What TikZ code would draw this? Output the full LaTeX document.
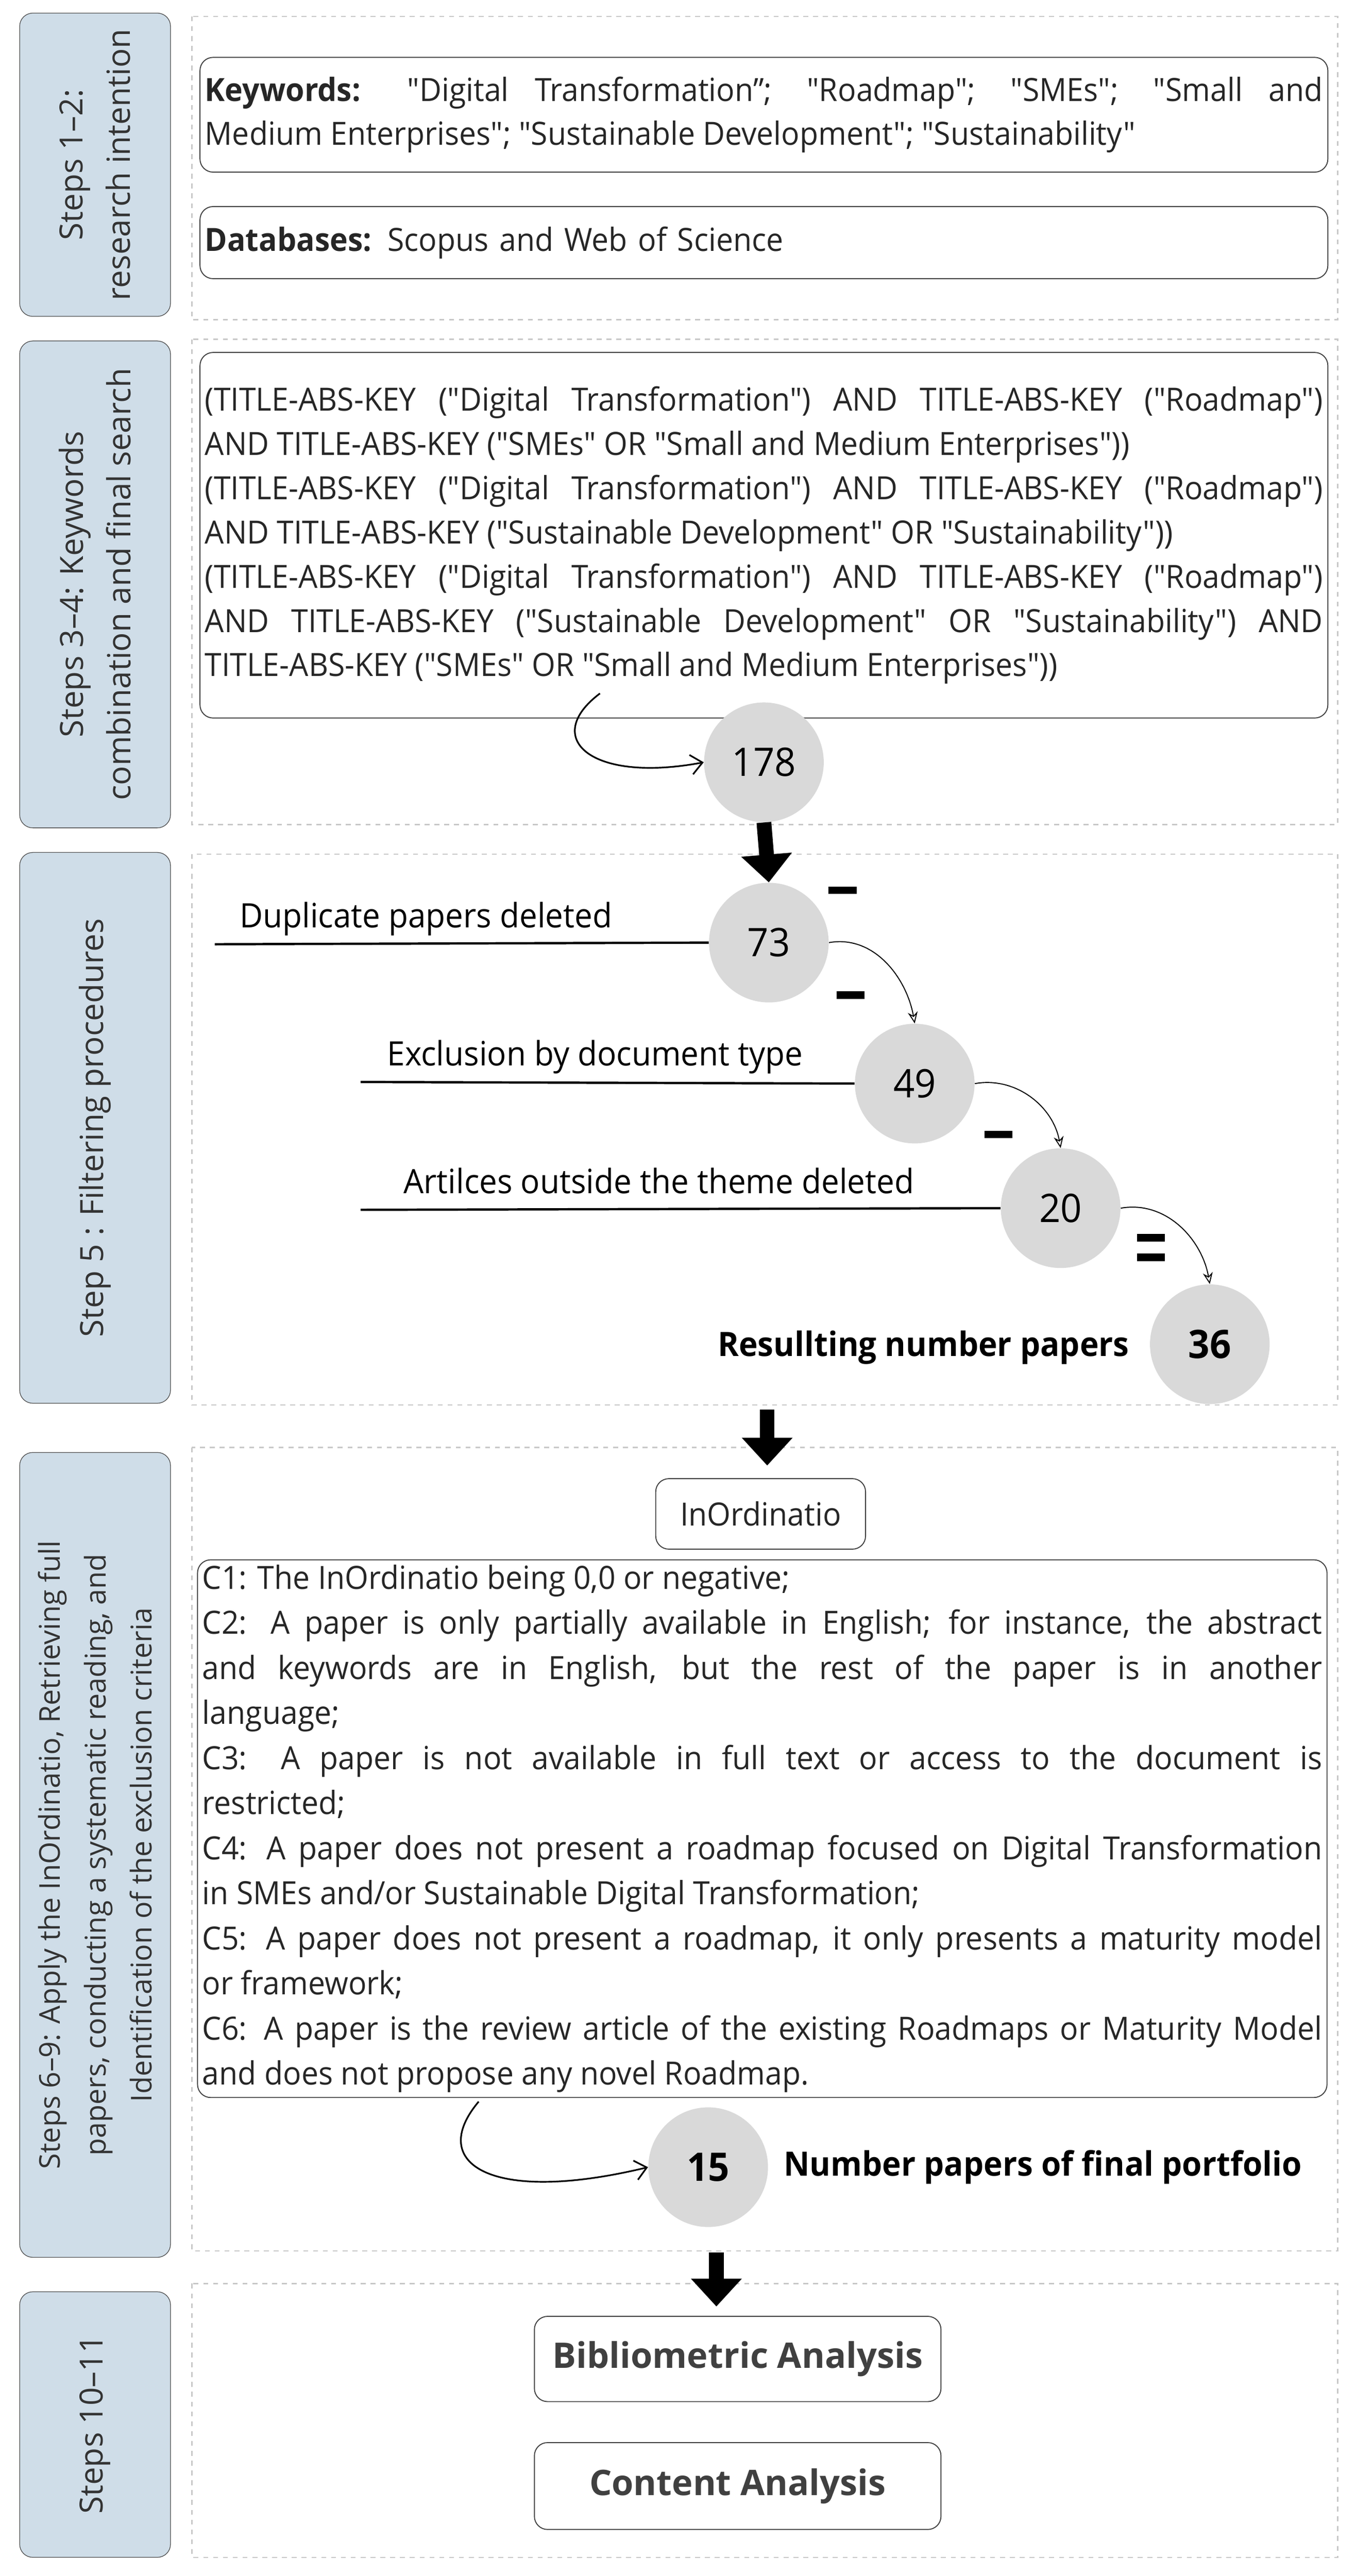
\documentclass[tikz,border=0pt]{standalone}
\usepackage{fontspec}
\setmainfont{Open Sans}
\newfontfamily\cond{Open Sans}[FakeStretch=0.95]
\usetikzlibrary{arrows.meta}
\definecolor{lab}{HTML}{CFDDE8}
\definecolor{circ}{HTML}{D9D9D9}
\definecolor{dash}{HTML}{C8C8C8}
\definecolor{txt}{HTML}{333333}
\hyphenpenalty=10000\relax
\begin{document}
\begin{tikzpicture}[x=1pt,y=-1pt,
  label/.style={draw=black!70,fill=lab,rounded corners=8pt,rotate=90,align=center,inner sep=0pt,
     font=\fontsize{19.5}{29}\selectfont,text=txt},
  dbox/.style={draw=dash,dashed,line width=0.8pt},
  tbox/.style={draw=black!75,rounded corners=8pt,line width=0.6pt,inner sep=3pt,align=justify,
     font=\cond\fontsize{19.5}{27}\selectfont,text=black!85},
  num/.style={circle,fill=circ,minimum size=73pt,inner sep=0pt,font=\cond\fontsize{24}{24}\selectfont},
  big/.style={line width=9pt,-{Triangle[width=30pt,length=17pt]}},
  thin/.style={line width=0.6pt,-{Stealth[length=7pt,width=6pt,open]}},
  hand/.style={line width=1pt,-{Straight Barb[length=7pt,width=12pt]}},
  bar/.style={fill=black,minimum width=17pt,minimum height=4.5pt,inner sep=0pt},
  lbl/.style={font=\cond\fontsize{20.5}{22}\selectfont,inner sep=0pt},
  blbl/.style={font=\cond\bfseries\fontsize{20.5}{22}\selectfont,inner sep=0pt},
  uline/.style={line width=1.4pt}]
\useasboundingbox (0,0) rectangle (827,1571.4);
% section frames
\draw[dbox] (117,10) rectangle (816,195);
\draw[dbox] (117,207) rectangle (816,503);
\draw[dbox] (117,521) rectangle (816,857);
\draw[dbox] (117,883) rectangle (816,1373);
\draw[dbox] (117,1393) rectangle (816,1560);
% side labels
\node[label,minimum width=185pt,minimum height=92pt] (L1) at (58,100.5) {Steps 1–2:\\research intention};
\node[label,minimum width=297pt,minimum height=92pt] (L2) at (58,356.5) {Steps 3–4: Keywords\\combination and final search};
\node[label,minimum width=336pt,minimum height=92pt] (L3) at (58,688) {Step 5 : Filtering procedures};
\node[label,minimum width=491pt,minimum height=92pt,font=\fontsize{17.5}{28}\selectfont] (L4) at (58,1131.5) {Steps 6–9: Apply the InOrdinatio, Retrieving full\\papers, conducting a systematic reading, and\\Identification of the exclusion criteria};
\node[label,minimum width=162pt,minimum height=92pt] (L5) at (58,1479) {Steps 10–11};
% section 1
\node[tbox,text width=682pt,minimum height=70pt] (kw) at (466,70) {\textbf{Keywords:} "Digital Transformation”; "Roadmap"; "SMEs"; "Small and\linebreak Medium Enterprises"; "Sustainable Development"; "Sustainability"};
\node[tbox,text width=682pt,minimum height=44pt,align=left] (db) at (466,148) {\textbf{Databases:} Scopus and Web of Science};
% section 2
\node[tbox,text width=682pt,minimum height=223pt] (q) at (466,326.5) {(TITLE-ABS-KEY ("Digital Transformation") AND TITLE-ABS-KEY ("Roadmap")\linebreak AND TITLE-ABS-KEY ("SMEs" OR "Small and Medium Enterprises"))\par (TITLE-ABS-KEY ("Digital Transformation") AND TITLE-ABS-KEY ("Roadmap")\linebreak AND TITLE-ABS-KEY ("Sustainable Development" OR "Sustainability"))\par (TITLE-ABS-KEY ("Digital Transformation") AND TITLE-ABS-KEY ("Roadmap")\linebreak AND TITLE-ABS-KEY ("Sustainable Development" OR "Sustainability") AND\linebreak TITLE-ABS-KEY ("SMEs" OR "Small and Medium Enterprises"))};
\node[num] (c178) at (466,465) {178};
\coordinate (s178) at (366,423);
\draw[hand] (s178) .. controls (330,450) and (360,478) .. (c178.west);
% section 3
\node[num] (c73) at (469,575) {73};
\node[num] (c49) at (558,661) {49};
\node[num] (c20) at (647,737) {20};
\node[num,font=\cond\bfseries\fontsize{24}{24}\selectfont] (c36) at (738,820) {36};
\draw[big] (c178.south) -- (c73.north);
\coordinate (u1) at (131,576);
\coordinate (u2) at (220,660);
\coordinate (u3) at (220,738);
\draw[uline] (u1) -- (c73.west);
\draw[uline] (u2) -- (c49.west);
\draw[uline] (u3) -- (c20.west);
\node[lbl,anchor=base west] (t1) at (146,566) {Duplicate papers deleted};
\node[lbl,anchor=base west] (t2) at (236,650) {Exclusion by document type};
\node[lbl,anchor=base west] (t3) at (246,728) {Artilces outside the theme deleted};
\draw[thin] (c73.east) to[out=10,in=100] (c49.north);
\draw[thin] (c49.east) to[out=10,in=100] (c20.north);
\draw[thin] (c20.east) to[out=10,in=100] (c36.north);
\node[bar] (m1) at (514,543) {};
\node[bar] (m2) at (519,607) {};
\node[bar] (m3) at (609,692) {};
\node[bar] (e1) at (702,755) {};
\node[bar] (e2) at (702,767) {};
\node[blbl,anchor=east] (res) at (689,822) {Resullting number papers};
% section 4
\node[tbox,align=center,minimum width=128pt,minimum height=43pt] (ino) at (464,923.5) {InOrdinatio};
\coordinate (a2s) at (468,860);
\coordinate (a2e) at (468,894);
\draw[big] (a2s) -- (a2e);
\node[tbox,text width=683pt,minimum height=325pt,font=\cond\fontsize{19.5}{27.5}\selectfont] (crit) at (465,1115.5) {C1: The InOrdinatio being 0,0 or negative;\par C2: A paper is only partially available in English; for instance, the abstract\linebreak and keywords are in English, but the rest of the paper is in another\linebreak language;\par C3: A paper is not available in full text or access to the document is\linebreak restricted;\par C4: A paper does not present a roadmap focused on Digital Transformation\linebreak in SMEs and/or Sustainable Digital Transformation;\par C5: A paper does not present a roadmap, it only presents a maturity model\linebreak or framework;\par C6: A paper is the review article of the existing Roadmaps or Maturity Model\linebreak and does not propose any novel Roadmap.};
\node[num,font=\cond\bfseries\fontsize{24}{24}\selectfont] (c15) at (432,1322) {15};
\coordinate (s15) at (292,1282);
\draw[hand] (s15) .. controls (260,1320) and (300,1345) .. (c15.west);
\node[blbl,anchor=west] (fin) at (478,1322) {Number papers of final portfolio};
% section 5
\coordinate (a3s) at (437,1374);
\coordinate (a3e) at (437,1407);
\draw[big] (a3s) -- (a3e);
\node[tbox,align=center,minimum width=248pt,minimum height=52pt,font=\bfseries\fontsize{21.5}{22}\selectfont,text=black!75] (bib) at (450,1439) {Bibliometric Analysis};
\node[tbox,align=center,minimum width=248pt,minimum height=53pt,font=\bfseries\fontsize{21.5}{22}\selectfont,text=black!75] (con) at (450,1516.5) {Content Analysis};
\end{tikzpicture}
\end{document}
